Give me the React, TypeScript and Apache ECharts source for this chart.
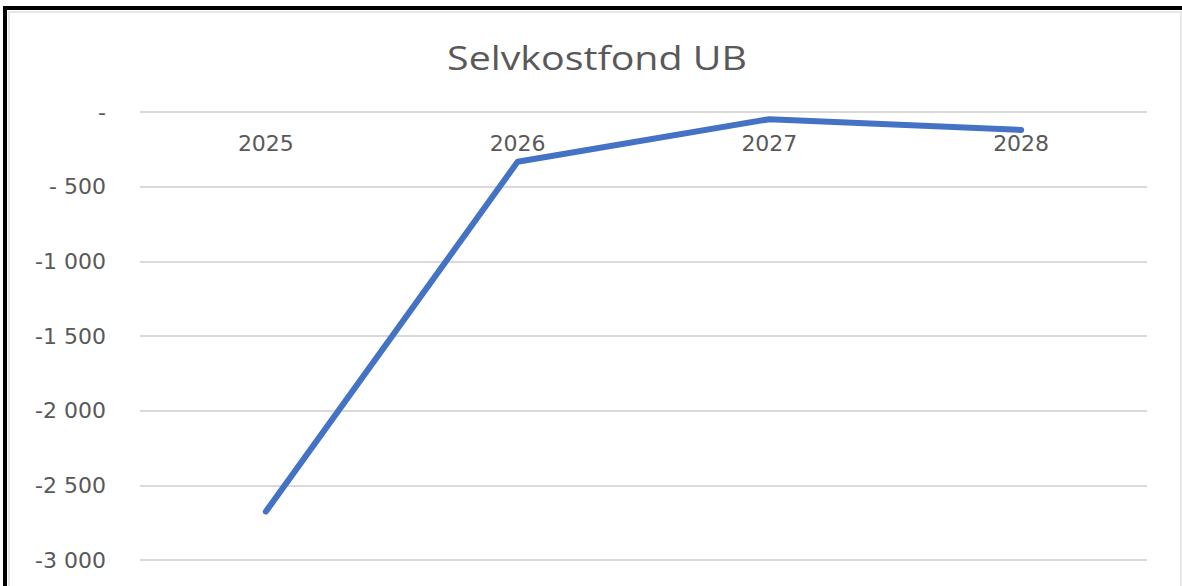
import React, { useEffect, useRef } from "react";
import * as echarts from "echarts";

const categories = ["2025", "2026", "2027", "2028"];
const values = [-2676, -333, -48, -120];
const yMin = -3000;
const yMax = 0;
const yInterval = 500;
const titleText = "Selvkostfond UB";

function formatY(v: number): string {
  if (v === 0) return "-";
  const abs = Math.abs(v);
  const s = abs >= 1000 ? Math.floor(abs / 1000) + " " + String(abs % 1000).padStart(3, "0") : String(abs);
  return abs < 1000 ? "- " + s : "-" + s;
}

export default function App() {
  const ref = useRef<HTMLDivElement>(null);
  useEffect(() => {
    if (!ref.current) return;
    const chart = echarts.init(ref.current, null, { renderer: "svg" });
    chart.setOption({
      animation: false,
      backgroundColor: "#ffffff",
      grid: { left: 140, right: 35, top: 112, bottom: 26, containLabel: false, outerBoundsMode: "none" },
      xAxis: {
        type: "category",
        position: "top",
        data: categories,
        boundaryGap: true,
        axisLine: { show: false },
        axisTick: { show: false },
        axisLabel: { inside: true, fontFamily: "DejaVu Sans", fontSize: 22, color: "#595959", margin: 20 },
      },
      yAxis: {
        type: "value",
        min: yMin,
        max: yMax,
        interval: yInterval,
        axisLine: { show: false },
        axisTick: { show: false },
        splitLine: { lineStyle: { color: "#d9d9d9", width: 2 } },
        axisLabel: {
          fontFamily: "DejaVu Sans",
          fontSize: 22,
          color: "#595959",
          margin: 34,
          formatter: (v: number) => formatY(v),
        },
      },
      graphic: [
        {
          type: "text",
          x: 597,
          y: 58,
          scaleX: 1.23,
          style: {
            text: titleText,
            fontFamily: "Open Sans",
            fontSize: 32,
            fill: "#595959",
            textAlign: "center",
            textVerticalAlign: "middle",
          },
        },
        { type: "rect", shape: { x: 5, y: 8, width: 1200, height: 700 }, style: { fill: "none", stroke: "#000", lineWidth: 4 }, z: 100 },
        { type: "rect", shape: { x: 9, y: 12, width: 1172, height: 700 }, style: { fill: "none", stroke: "#e0e0e0", lineWidth: 1.5 }, z: 100 },
      ],
      series: [
        {
          type: "line",
          data: values,
          showSymbol: false,
          symbol: "none",
          lineStyle: { color: "#4472c4", width: 6, cap: "round", join: "round" },
        },
      ],
    });
    return () => chart.dispose();
  }, []);
  return <div ref={ref} style={{ position: "absolute", left: 0, top: 0, width: 1182, height: 586 }} />;
}
